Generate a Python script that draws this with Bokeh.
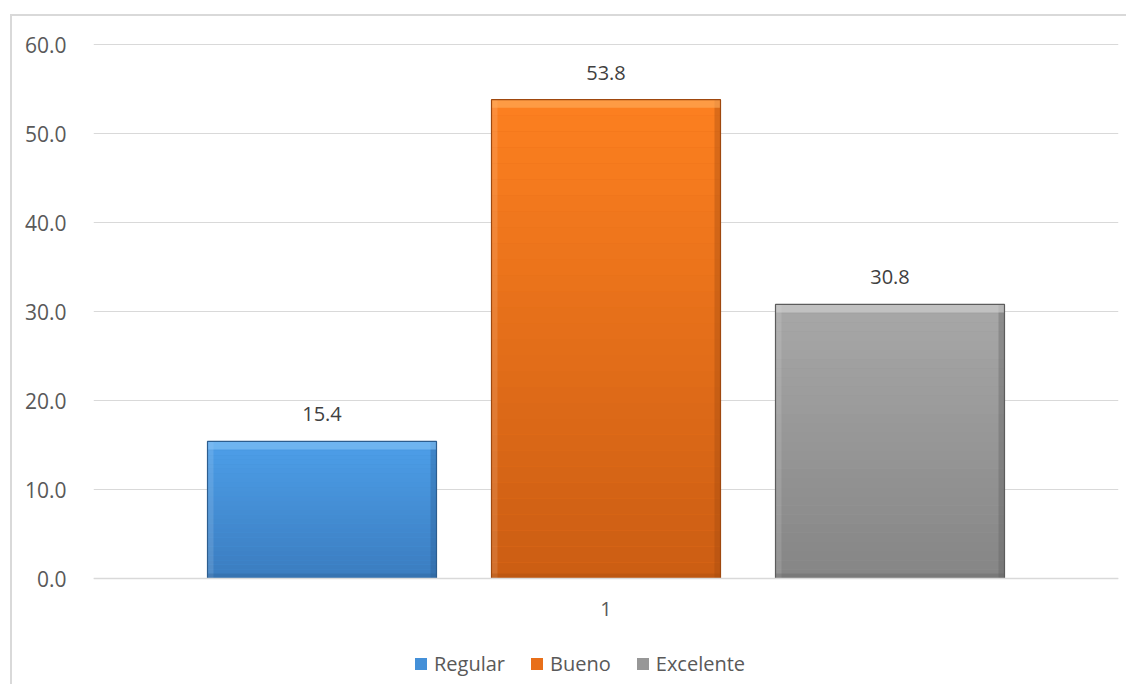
import numpy as np
from bokeh.plotting import figure
from bokeh.models import (ColumnDataSource, FactorRange, Range1d, Legend, LegendItem,
                          NumeralTickFormatter, FixedTicker)
from bokeh.transform import dodge
from bokeh.embed import file_html
from bokeh.resources import INLINE
from bokeh.core.properties import value

# ---- data ----
categories = ["Regular", "Bueno", "Excelente"]
values = [15.4, 53.8, 30.8]
x_factors = ["1"]
y_ticks = [0, 10, 20, 30, 40, 50, 60]

# ---- styles ----
top_colors = ["#4d9fe9", "#fd8020", "#a8a8a8"]
bottom_colors = ["#3b7cbf", "#cb5d13", "#858585"]
mid_colors = ["#4490d8", "#e86f19", "#979797"]
edge_colors = ["#2c5d8f", "#9f480e", "#5c5c5c"]
bevel_colors = ["#85c3f6", "#ffae5e", "#d2d2d2"]

FONT = "Open Sans"
W, H = 1116, 670
LEFT, RIGHT, TOP, BOTTOM = 81, 10, 18, 4
PX_TOP60, PX_ZERO = 28, 562          # canvas pixel rows of 60 and 0
px_per_unit = (PX_ZERO - PX_TOP60) / 60.0
y_end = 60 + (PX_TOP60 - TOP) / px_per_unit
y_start = -((H - BOTTOM) - PX_ZERO) / px_per_unit
frame_w = W - LEFT - RIGHT

bar_w = 229 / frame_w
step = 284 / frame_w
edge_w = 6 / frame_w

p = figure(width=W, height=H, x_range=FactorRange(factors=x_factors, range_padding=0),
           y_range=Range1d(y_start, y_end), output_backend="svg", toolbar_location=None,
           min_border_left=LEFT, min_border_right=RIGHT, min_border_top=TOP,
           min_border_bottom=BOTTOM)
p.styles = {"border-left": "2px solid #d9d9d9", "border-top": "2px solid #d9d9d9"}
p.margin = (14, 0, 0, 10)
p.outline_line_color = None
p.background_fill_color = "white"
p.border_fill_color = "white"

# axes
p.yaxis.ticker = FixedTicker(ticks=y_ticks)
p.yaxis.formatter = NumeralTickFormatter(format="0.0")
p.yaxis.axis_line_color = None
p.yaxis.major_tick_line_color = None
p.yaxis.minor_tick_line_color = None
p.yaxis.major_label_standoff = 21
p.yaxis.major_label_text_font = FONT
p.yaxis.major_label_text_font_size = "21px"
p.yaxis.major_label_text_color = "#595959"

p.xaxis.fixed_location = 0
p.xaxis.axis_line_color = "#d9d9d9"
p.xaxis.axis_line_width = 1.5
p.xaxis.major_tick_line_color = None
p.xaxis.minor_tick_line_color = None
p.xaxis.major_label_standoff = 17
p.xaxis.major_label_text_font = FONT
p.xaxis.major_label_text_font_size = "20px"
p.xaxis.major_label_text_color = "#595959"

p.xgrid.grid_line_color = None
p.ygrid.ticker = FixedTicker(ticks=y_ticks)
p.ygrid.grid_line_color = "#d9d9d9"
p.ygrid.grid_line_width = 1

def hex2rgb(h):
    h = h.lstrip("#")
    return np.array([int(h[i:i + 2], 16) for i in (0, 2, 4)], dtype=float)

def rgb2hex(c):
    return "#%02x%02x%02x" % tuple(int(round(v)) for v in c)

legend_items = []
N = 30
bevel = 8 / px_per_unit
bottom_edge = 5 / px_per_unit
for i, (cat, v) in enumerate(zip(categories, values)):
    off = (i - 1) * step
    xd = dodge("x", off, range=p.x_range)
    base_src = ColumnDataSource(dict(x=x_factors, top=[v], label=["%.1f" % v]))
    base = p.vbar(x=xd, top="top", bottom=0, width=bar_w, source=base_src,
                  fill_color=mid_colors[i], line_color=None)
    # vertical gradient bands
    fr = np.arange(N) / N
    bots = [v * f for f in fr]
    tops = [v * (f + 1.0 / N) for f in fr]
    c0, c1 = hex2rgb(bottom_colors[i]), hex2rgb(top_colors[i])
    cols = [rgb2hex(c0 + (c1 - c0) * (f + 0.5 / N)) for f in fr]
    band_src = ColumnDataSource(dict(x=x_factors * N, b=bots, t=tops, c=cols))
    p.vbar(x=xd, top="t", bottom="b", width=bar_w, source=band_src,
           fill_color="c", line_color=None)
    # side bevels (right darker, left lighter) and bottom darker
    x_right = dodge("x", off + bar_w / 2 - edge_w / 2, range=p.x_range)
    x_left = dodge("x", off - bar_w / 2 + edge_w / 2, range=p.x_range)
    p.vbar(x=x_right, top="top", bottom=0, width=edge_w, source=base_src,
           fill_color=edge_colors[i], fill_alpha=0.35, line_color=None)
    p.vbar(x=x_left, top="top", bottom=0, width=edge_w, source=base_src,
           fill_color="white", fill_alpha=0.12, line_color=None)
    bot_src = ColumnDataSource(dict(x=x_factors, top=[bottom_edge]))
    p.vbar(x=xd, top="top", bottom=0, width=bar_w, source=bot_src,
           fill_color=edge_colors[i], fill_alpha=0.3, line_color=None)
    # top bevel highlight
    bev_src = ColumnDataSource(dict(x=x_factors, top=[v], b=[v - bevel]))
    p.vbar(x=xd, top="top", bottom="b", width=bar_w, source=bev_src,
           fill_color=bevel_colors[i], fill_alpha=0.6, line_color=None)
    # outline
    p.vbar(x=xd, top="top", bottom=0, width=bar_w, source=base_src,
           fill_color=None, line_color=edge_colors[i], line_width=1.2)
    # value label
    p.text(x=xd, y="top", text="label", source=base_src, text_align="center",
           text_baseline="middle", y_offset=-27, text_font=value(FONT),
           text_font_size="20px", text_color="#404040")
    legend_items.append(LegendItem(label=cat, renderers=[base]))

legend = Legend(items=legend_items, orientation="horizontal", location=(320, 5),
                glyph_width=15, glyph_height=15, label_standoff=6, spacing=24,
                padding=0, margin=0, border_line_color=None, background_fill_alpha=0,
                label_text_font=FONT, label_text_font_size="20px",
                label_text_color="#595959", label_height=20)
p.add_layout(legend, "center")

open("out.html", "w").write(file_html(p, INLINE))
